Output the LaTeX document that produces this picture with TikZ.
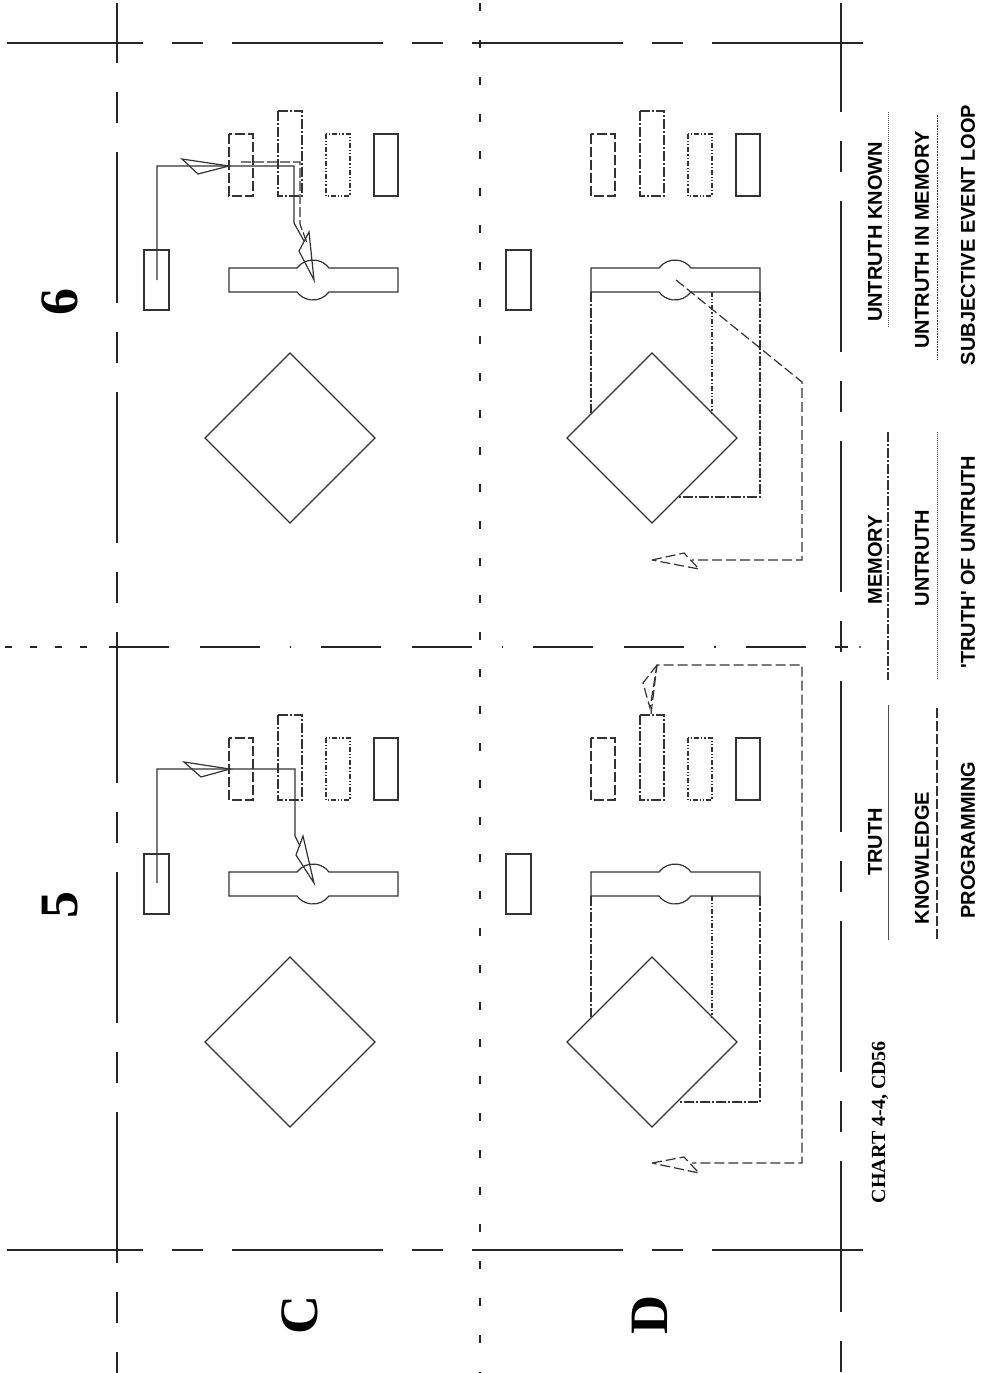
\documentclass[tikz,border=0pt]{standalone}
\usepackage{fontspec}
\setmainfont{Liberation Serif}
\newfontfamily\arialf{Liberation Sans}
\newcommand\panelcommon{%
  \draw[shp] (144,250) rectangle (169,310);
  \draw[dsh] (229,134) rectangle (253,196);
  \draw[dshdot] (278,111) rectangle (302,196);
  \draw[dshdotdot] (326,134) rectangle (350,196);
  \draw[shp] (374,134) rectangle (398,196);
  \draw[shp] (229,268) -- (297,268) arc[start angle=216.87,end angle=323.13,radius=20] -- (398,268) -- (398,292) -- (329,292) arc[start angle=36.87,end angle=143.13,radius=20] -- (229,292) -- cycle;
  \draw[shp] (205,438) -- (290,353) -- (375,438) -- (290,523) -- cycle;
}
\begin{document}
\begin{tikzpicture}[x=0.5pt,y=-0.5pt,
  frame/.style={line width=0.8pt, black!85, dash pattern=on 75.5pt off 14.5pt on 15.5pt off 14.5pt},
  shp/.style={line width=0.6pt, black!80},
  dsh/.style={shp, dash pattern=on 5pt off 1.5pt},
  dshdot/.style={shp, dash pattern=on 5pt off 1.2pt on 0.6pt off 1.2pt},
  dshdotdot/.style={shp, dash pattern=on 2.5pt off 1pt on 0.6pt off 1pt on 0.6pt off 1pt},
  loopdash/.style={shp, dash pattern=on 5pt off 2pt},
  lbl/.style={font=\arialf\bfseries\fontsize{10}{12}\selectfont, rotate=90, inner sep=0pt},
  big/.style={font=\bfseries\fontsize{27}{30}\selectfont, rotate=90, inner sep=0pt},
]
\fill[white] (0,0) rectangle (981,1373);
\path[use as bounding box] (0,0) rectangle (981,1373);

% frame lines
\draw[frame, dash phase=7.5pt] (7,43) -- (867,43);
\draw[frame, dash phase=7.5pt] (7,1250) -- (867,1250);
\draw[frame, dash phase=45.5pt] (117,3) -- (117,1373);
\draw[frame, dash phase=21pt] (841,3) -- (841,1373);
\draw[line width=0.7pt, black!85, dash pattern=on 4pt off 14.5pt] (480,3) -- (480,1373);
\draw[line width=0.7pt, black!85, dash pattern=on 30pt off 15.5pt on 30pt off 15pt on 0.6pt off 15pt] (109,647) -- (841,647);
\draw[line width=0.7pt, black!85, dash pattern=on 3.5pt off 9pt] (5,647) -- (100,647);
\draw[line width=0.7pt, black!85] (835,647) -- (848,647);
\fill[black!80] (860,647) circle[radius=0.6pt];

% panels
\panelcommon
\begin{scope}[shift={(0,604)}]\panelcommon\end{scope}
\begin{scope}[shift={(362,0)}]\panelcommon\end{scope}
\begin{scope}[shift={(362,604)}]\panelcommon\end{scope}

% C6 arrows
\draw[shp] (157,280) -- (157,166) -- (294,166) -- (294,223) -- (304,241);
\draw[shp] (229,166) -- (182,159) -- (198,174) -- cycle;
\draw[shp] (314,280) -- (309,232) -- (299,251) -- cycle;
\draw[dsh] (241,162) -- (300,162) -- (300,224) -- (307,243);

% C5 arrows
\draw[shp] (157,883) -- (157,769) -- (295,769) -- (295,836) -- (300,846);
\draw[shp] (230,769) -- (184,762) -- (201,777) -- cycle;
\draw[shp] (314,883) -- (303,836) -- (296,855) -- cycle;

% D6
\draw[dshdot] (591,292) -- (591,413);
\draw[dshdotdot] (712,292) -- (712,413);
\draw[dshdot] (760,292) -- (760,497) -- (678,497);
\draw[loopdash] (676,280) -- (802,382) -- (802,560) -- (692,560);
\draw[loopdash] (652,560) -- (684,553) -- (699,569) -- cycle;

% D5
\draw[dshdot] (591,896) -- (591,1017);
\draw[dshdotdot] (712,896) -- (712,1017);
\draw[dshdot] (760,896) -- (760,1102) -- (678,1102);
\draw[loopdash] (651,714) -- (657,665) -- (802,665) -- (802,1163) -- (692,1163);
\draw[loopdash] (657,665) -- (643,683) -- (650,708) -- cycle;
\draw[loopdash] (652,1163) -- (684,1157) -- (699,1173) -- cycle;

% big labels
\node[big] (n6) at (60,302) {6};
\node[big] (n5) at (60,905) {5};
\node[big] (nC) at (300,1315) {C};
\node[big] (nD) at (650,1315) {D};
\node[font=\bfseries\fontsize{10}{12}\selectfont, rotate=90, inner sep=0pt] (chart) at (880,1122) {CHART 4-4, CD56};

% legend labels
\node[lbl] (l1) at (875,232) {UNTRUTH KNOWN};
\node[lbl] (l2) at (922,240) {UNTRUTH IN MEMORY};
\node[lbl] (l3) at (968,235) {SUBJECTIVE EVENT LOOP};
\node[lbl] (l4) at (875,560) {MEMORY};
\node[lbl] (l5) at (922,558) {UNTRUTH};
\node[lbl] (l6) at (968,562) {'TRUTH' OF UNTRUTH};
\node[lbl] (l7) at (875,842) {TRUTH};
\node[lbl] (l8) at (922,858) {KNOWLEDGE};
\node[lbl] (l9) at (968,840) {PROGRAMMING};

% legend lines
\draw[line width=0.5pt, black!70, dash pattern=on 0.5pt off 0.5pt] (888,112) -- (888,327);
\draw[line width=0.5pt, black!80, dash pattern=on 0.8pt off 0.5pt] (937,115) -- (937,360);
\draw[dshdot] (888,432) -- (888,680);
\draw[line width=0.5pt, black!70, dash pattern=on 0.5pt off 0.5pt] (937,432) -- (937,680);
\draw[line width=0.5pt, black!70] (888,705) -- (888,940);
\draw[dsh] (937,708) -- (937,940);
\end{tikzpicture}
\end{document}
